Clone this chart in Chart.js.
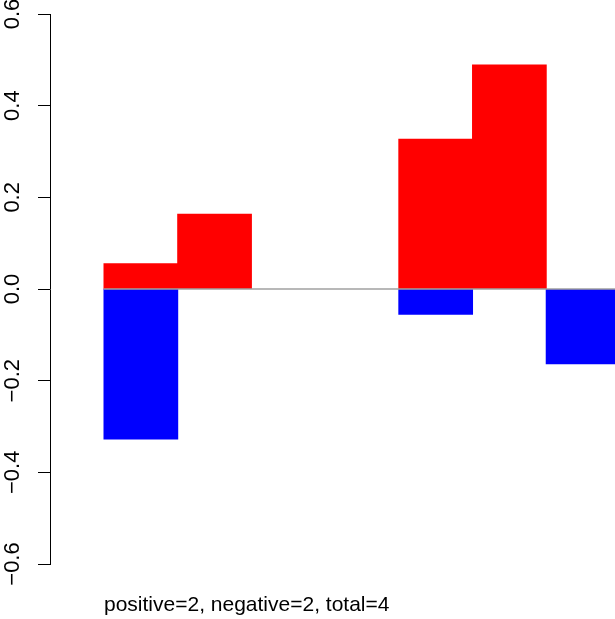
<!DOCTYPE html>
<html>
<head>
<meta charset="utf-8">
<script src="https://cdn.jsdelivr.net/npm/chart.js@4/dist/chart.umd.min.js"></script>
<style>
  html, body { margin: 0; padding: 0; background: #fff; }
  #chart { display: block; }
</style>
</head>
<body>
<canvas id="chart" width="615" height="619"></canvas>
<script>
// values (null = no bar)
const categories = ['1', '2', '3', '4', '5', '6', '7'];
const posValues = [0.055, 0.163, null, null, 0.327, 0.489, null];
const negValues = [-0.327, null, null, null, -0.055, null, -0.163];
const yTicks = [-0.6, -0.4, -0.2, 0, 0.2, 0.4, 0.6];
const subText = 'positive=2, negative=2, total=4';

const FONT = '"Liberation Sans", Arial, Helvetica, sans-serif';

function toPoints(vals) {
  return categories.map(function (c, i) { return { x: i + 1, y: vals[i] }; });
}

// bottom caption, starts at left edge of first bar
const captionPlugin = {
  id: 'caption',
  afterDraw: function (chart) {
    const ctx = chart.ctx;
    const x = chart.scales.x.getPixelForValue(0.5);
    ctx.save();
    ctx.font = '21px ' + FONT;
    ctx.fillStyle = '#000';
    ctx.textAlign = 'left';
    ctx.textBaseline = 'alphabetic';
    ctx.fillText(subText, x, 611);
    ctx.restore();
  }
};

new Chart(document.getElementById('chart'), {
  type: 'bar',
  data: {
    datasets: [
      {
        type: 'line',
        data: [{ x: 0.5, y: 0 }, { x: categories.length + 0.5, y: 0 }],
        borderColor: '#a0a0a0',
        borderWidth: 1.5,
        pointRadius: 0,
        order: -1
      },
      {
        data: toPoints(posValues),
        backgroundColor: '#ff0000',
        borderWidth: 0,
        inflateAmount: 0.5,
        categoryPercentage: 1,
        barPercentage: 1
      },
      {
        data: toPoints(negValues),
        backgroundColor: '#0000ff',
        borderWidth: 0,
        inflateAmount: 0.5,
        categoryPercentage: 1,
        barPercentage: 1
      }
    ]
  },
  options: {
    responsive: false,
    animation: false,
    layout: { padding: { top: 14, bottom: 55, left: 0, right: 0 } },
    plugins: { legend: { display: false }, tooltip: { enabled: false } },
    scales: {
      x: {
        type: 'linear',
        display: false,
        offset: false,
        stacked: true,
        min: -0.2327,
        max: 7.433,
        ticks: { stepSize: 1, includeBounds: false }
      },
      y: {
        stacked: true,
        min: -0.6,
        max: 0.6,
        afterBuildTicks: function (scale) {
          scale.ticks = yTicks.map(function (v) { return { value: v }; });
        },
        afterFit: function (scale) {
          scale.width = 50;
          scale.paddingTop = 0;
          scale.paddingBottom = 0;
        },
        border: { display: true, color: '#000', width: 1 },
        grid: {
          drawOnChartArea: false,
          drawTicks: true,
          tickLength: 12,
          color: '#000',
          lineWidth: 1
        },
        ticks: {
          minRotation: 90,
          maxRotation: 90,
          crossAlign: 'center',
          padding: 3,
          color: '#000',
          font: { family: FONT, size: 22 },
          callback: function (v) {
            if (Math.abs(v) < 1e-9) v = 0;
            return v.toFixed(1).replace('-', '\u2212');
          }
        }
      }
    }
  },
  plugins: [captionPlugin]
});
</script>
</body>
</html>
